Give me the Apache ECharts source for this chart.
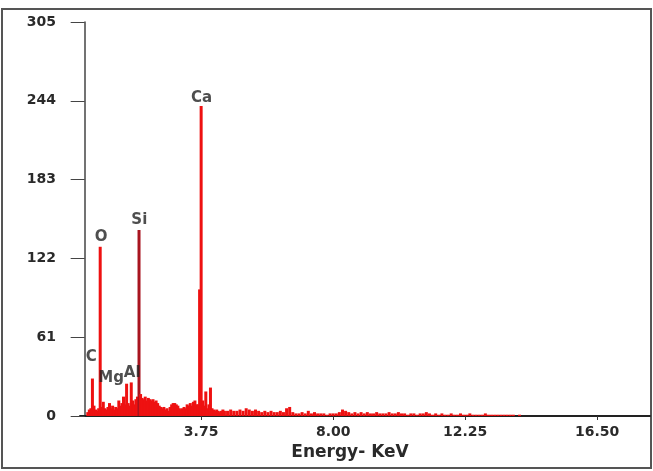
<!DOCTYPE html>
<html>
<head>
<meta charset="utf-8">
<script src="https://cdn.jsdelivr.net/npm/echarts@6/dist/echarts.min.js"></script>
<style>
  html, body { margin: 0; padding: 0; background: #fff; }
  #chart { width: 653px; height: 471px; }
</style>
</head>
<body>
<div id="chart"></div>
<script>
// EDS spectrum, counts per channel
const lowStart = 0.10
const lowStep = 0.05
const lowCounts = [
  3, 5, 6, 29, 8, 5, 4, 6, 131, 7,
  11, 6, 5, 7, 10, 6, 8, 5, 7, 6,
  12, 8, 10, 15, 9, 25, 10, 8, 26, 12,
  9, 13, 15, 144, 17, 14, 13, 15, 12, 14,
  13, 12, 13, 11, 12, 10, 8, 7, 6, 7,
  5, 6, 4, 7, 9, 10, 10, 9, 8, 6,
  5, 6, 7, 6, 9, 8, 10, 8, 11, 12,
  9, 9, 98, 240, 12, 8, 19, 6, 9, 22,
  6, 5, 4, 5, 4, 3, 4, 5, 4
]
const tailStart = 4.6
const tailStep = 0.1
const tailCounts = [
  4, 5, 4, 4, 5, 4, 6, 5, 4, 5,
  4, 3, 4, 3, 4, 3, 3, 4, 3, 6,
  7, 3, 2, 2, 3, 2, 4, 2, 3, 2,
  2, 2, 1, 2, 2, 2, 3, 5, 4, 3,
  2, 3, 2, 3, 2, 3, 2, 2, 3, 2,
  2, 2, 3, 2, 2, 3, 2, 2, 1, 2,
  2, 1, 2, 2, 3, 2, 1, 2, 1, 2,
  1, 1, 2, 1, 1, 2, 1, 1, 2, 1,
  1, 1, 1, 2, 1, 1, 1, 1, 1, 1,
  1, 1, 1, 0, 1
]
const siEnergy = 1.75

// element labels (anchor in keV / counts)
const peakNames = ['C', 'O', 'Mg', 'Al', 'Si', 'Ca']
const peakLabelKeV = [0.21, 0.53, 0.85, 1.53, 1.76, 3.76]
const peakLabelCounts = [45.7, 138.5, 29.2, 33.1, 151.7, 246]

const xTicks = [3.75, 8.00, 12.25, 16.50]

const spectrum = []
lowCounts.forEach((c, i) => spectrum.push([+(lowStart + i * lowStep).toFixed(2), c]))
tailCounts.forEach((c, i) => spectrum.push([+(tailStart + i * tailStep).toFixed(2), c]))

const labelData = peakNames.map((n, i) => ({ name: n, value: [peakLabelKeV[i], peakLabelCounts[i]] }))

const font = 'DejaVu Sans'

const chart = echarts.init(document.getElementById('chart'))
chart.setOption({
  animation: false,
  backgroundColor: '#fff',
  grid: { left: 80, right: 3, top: 22, bottom: 55 },
  xAxis: {
    type: 'value',
    min: -0.15,
    max: 18.2,
    name: 'Energy- KeV',
    nameLocation: 'middle',
    nameGap: 28,
    nameTextStyle: { fontFamily: font, fontWeight: 'bold', fontSize: 17, color: '#2a2a2a', padding: [0, 30, 0, 0] },
    axisLine: { lineStyle: { color: '#222', width: 2 } },
    axisTick: { show: true, length: 4, customValues: xTicks, lineStyle: { color: '#333' } },
    axisLabel: {
      customValues: xTicks,
      margin: 9,
      fontFamily: font, fontWeight: 'bold', fontSize: 14, color: '#2a2a2a',
      formatter: v => v.toFixed(2)
    },
    splitLine: { show: false }
  },
  yAxis: {
    type: 'value',
    min: 0,
    max: 305,
    interval: 61,
    axisLine: { show: true, lineStyle: { color: '#444', width: 1.5 } },
    axisTick: { show: true, length: 14, lineStyle: { color: '#444' } },
    axisLabel: { margin: 24, fontFamily: font, fontWeight: 'bold', fontSize: 14, color: '#2a2a2a' },
    splitLine: { show: false }
  },
  graphic: [{
    type: 'rect',
    shape: { x: 2, y: 9, width: 649, height: 459 },
    style: { fill: 'none', stroke: '#555', lineWidth: 2 },
    silent: true
  }],
  series: [{
    type: 'bar',
    data: spectrum,
    barWidth: 3,
    itemStyle: {
      color: p => (p.value[0] === siEnergy ? '#a8141f' : '#ee1111')
    }
  }, {
    type: 'scatter',
    data: labelData,
    symbolSize: 0,
    label: {
      show: true,
      position: 'inside',
      formatter: p => p.name,
      fontFamily: font, fontWeight: 'bold', fontSize: 15, color: '#222'
    }
  }]
})
</script>
</body>
</html>
